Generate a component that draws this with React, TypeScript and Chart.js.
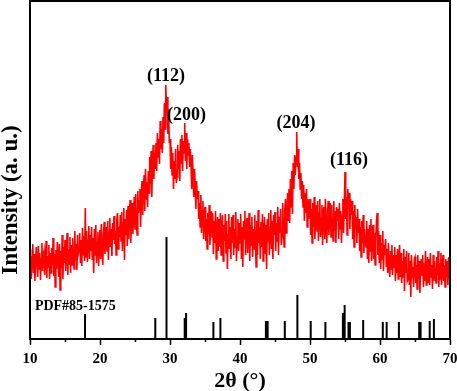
import React, { useEffect, useRef } from "react";
import { Chart, registerables } from "chart.js";

Chart.register(...registerables);

// Measured XRD pattern: 2θ from 10° to 70°, step 0.1°
const TWO_THETA_START = 10;
const TWO_THETA_STEP = 0.1;
const intensity: number[] = [
  70, 90, 60, 82, 95, 66, 85, 58, 78, 92,
  75, 62, 93, 70, 86, 59, 80, 96, 68, 84,
  88, 64, 79, 98, 61, 83, 72, 94, 60, 86,
  66, 91, 74, 101, 63, 85, 52, 89, 70, 97,
  80, 62, 95, 49, 88, 71, 104, 60, 92, 76,
  99, 68, 86, 106, 64, 90, 75, 102, 66, 94,
  74, 101, 84, 70, 108, 79, 95, 69, 104, 86,
  90, 106, 76, 99, 73, 111, 84, 103, 78, 131,
  82, 108, 77, 99, 113, 80, 104, 88, 112, 79,
  101, 66, 110, 84, 114, 76, 96, 107, 73, 92,
  109, 80, 115, 90, 74, 104, 117, 85, 98, 112,
  88, 118, 79, 106, 121, 92, 110, 83, 116, 99,
  123, 95, 108, 84, 119, 126, 90, 112, 102, 124,
  98, 127, 88, 116, 131, 79, 120, 104, 129, 93,
  133, 100, 124, 139, 96, 118, 136, 105, 128, 142,
  110, 145, 120, 104, 148, 126, 138, 150, 112, 143,
  158, 124, 150, 164, 128, 170, 140, 157, 132, 168,
  146, 182, 155, 188, 142, 175, 194, 160, 186, 170,
  196, 168, 206, 182, 200, 175, 218, 190, 210, 186,
  222, 196, 236, 210, 254, 228, 242, 205, 230, 196,
  200, 170, 192, 164, 186, 150, 178, 160, 190, 156,
  162, 194, 170, 188, 158, 200, 176, 204, 168, 198,
  186, 216, 178, 206, 170, 200, 184, 196, 172, 190,
  176, 150, 184, 162, 142, 170, 154, 130, 158, 140,
  148, 120, 136, 112, 144, 106, 128, 138, 100, 122,
  132, 98, 120, 90, 126, 105, 134, 94, 116, 128,
  102, 126, 85, 118, 96, 128, 80, 110, 122, 88,
  120, 92, 126, 84, 108, 124, 78, 114, 98, 125,
  86, 118, 70, 104, 125, 90, 112, 80, 122, 96,
  124, 84, 110, 92, 127, 78, 102, 120, 88, 116,
  96, 125, 80, 112, 72, 118, 100, 128, 84, 108,
  121, 86, 104, 126, 78, 114, 94, 122, 82, 110,
  90, 124, 100, 72, 118, 84, 129, 96, 112, 80,
  117, 92, 125, 78, 106, 122, 86, 114, 70, 120,
  98, 126, 84, 112, 129, 90, 118, 80, 124, 104,
  127, 88, 116, 98, 132, 84, 122, 106, 130, 94,
  102, 136, 112, 92, 130, 140, 106, 124, 146, 118,
  150, 116, 160, 132, 168, 125, 176, 150, 184, 164,
  182, 207, 172, 190, 160, 176, 150, 166, 140, 158,
  132, 154, 118, 146, 126, 150, 112, 140, 120, 136,
  140, 104, 130, 96, 136, 112, 142, 100, 124, 134,
  108, 138, 98, 126, 140, 102, 120, 134, 94, 128,
  132, 100, 140, 112, 96, 126, 138, 104, 122, 136,
  102, 134, 114, 98, 138, 108, 128, 96, 132, 118,
  130, 100, 136, 110, 128, 96, 124, 140, 106, 134,
  167, 120, 142, 104, 150, 132, 146, 110, 140, 124,
  138, 100, 128, 92, 134, 110, 122, 96, 130, 106,
  120, 88, 112, 82, 118, 96, 124, 86, 110, 100,
  92, 118, 80, 110, 76, 114, 88, 120, 78, 104,
  114, 80, 106, 74, 102, 118, 126, 84, 108, 76,
  104, 70, 96, 80, 108, 68, 94, 84, 100, 72,
  90, 66, 96, 74, 62, 88, 70, 94, 64, 84,
  72, 92, 58, 84, 66, 90, 60, 80, 94, 62,
  86, 56, 78, 62, 90, 48, 82, 66, 88, 58,
  60, 86, 54, 78, 42, 84, 62, 72, 52, 80,
  82, 56, 74, 50, 84, 60, 78, 46, 70, 80,
  64, 84, 52, 76, 58, 88, 54, 72, 82, 56,
  80, 54, 86, 62, 74, 50, 84, 58, 78, 66,
  56, 82, 64, 88, 52, 76, 60, 86, 54, 72,
  84, 58, 74, 52, 80, 62, 78, 54, 82, 60,
  66,
];

// Reference pattern PDF#85-1575
const refPositions: number[] = [
  17.86, 27.9, 29.5, 32.1, 32.3, 36.2, 37.2, 43.7, 43.95, 46.4, 48.2, 50.1,
  52.2, 54.7, 54.95, 55.5, 55.7, 57.6, 60.4, 60.95, 62.7, 65.6, 65.8, 67.1, 67.7,
];
const refHeights: number[] = [
  25, 21, 102, 21, 26, 17, 21, 18, 18, 18, 44, 18,
  17, 26, 34, 17, 17, 19, 17, 17, 17, 17, 17, 18, 20,
];

const xTicks: number[] = [10, 20, 30, 40, 50, 60, 70];
const xMinorTicks: number[] = [15, 25, 35, 45, 55, 65];

const peakLabels: string[] = ["(112)", "(200)", "(204)", "(116)"];
const peakLabelX: number[] = [29.43, 32.36, 48.0, 55.57];
const peakLabelY: number[] = [263, 224, 216, 179];
const refLabel = "PDF#85-1575";
const xTitle = "2θ (°)";
const yTitle = "Intensity (a. u.)";

const FONT = '"Liberation Serif", "Times New Roman", serif';

export default function App() {
  const ref = useRef<HTMLCanvasElement | null>(null);

  useEffect(() => {
    if (!ref.current) return;
    const curve = intensity.map((v, i) => ({
      x: TWO_THETA_START + i * TWO_THETA_STEP,
      y: v,
    }));
    const sticks: { x: number; y: number | null }[] = [];
    refPositions.forEach((p, i) => {
      sticks.push({ x: p, y: 0 }, { x: p, y: refHeights[i] }, { x: p, y: null });
    });

    const decor = {
      id: "decor",
      afterDatasetsDraw(chart: any) {
        const { ctx, chartArea } = chart;
        const xs = chart.scales.x;
        const ys = chart.scales.y;
        ctx.save();
        // frame
        ctx.strokeStyle = "#000";
        ctx.lineWidth = 2;
        ctx.strokeRect(chartArea.left, chartArea.top, chartArea.right - chartArea.left, chartArea.bottom - chartArea.top);
        // minor ticks
        ctx.lineWidth = 1.5;
        xMinorTicks.forEach((t) => {
          const px = Math.round(xs.getPixelForValue(t)) + 0.5;
          ctx.beginPath();
          ctx.moveTo(px, chartArea.bottom);
          ctx.lineTo(px, chartArea.bottom + 3);
          ctx.stroke();
        });
        ctx.fillStyle = "#000";
        // tick labels
        ctx.textAlign = "center";
        ctx.textBaseline = "alphabetic";
        ctx.font = `bold 15px ${FONT}`;
        xTicks.forEach((t) => {
          ctx.fillText(String(t), xs.getPixelForValue(t), chartArea.bottom + 24);
        });
        // x title
        ctx.font = `bold 22px ${FONT}`;
        ctx.fillText(xTitle, (chartArea.left + chartArea.right) / 2, chartArea.bottom + 48);
        // peak labels
        ctx.textBaseline = "middle";
        ctx.font = `bold 18px ${FONT}`;
        peakLabels.forEach((t, i) => {
          ctx.fillText(t, xs.getPixelForValue(peakLabelX[i]), ys.getPixelForValue(peakLabelY[i]));
        });
        ctx.textAlign = "left";
        ctx.font = `bold 14px ${FONT}`;
        ctx.fillText(refLabel, xs.getPixelForValue(10.7), ys.getPixelForValue(33));
        // y title
        ctx.font = `bold 23px ${FONT}`;
        ctx.translate(17, 200);
        ctx.rotate(-Math.PI / 2);
        ctx.textAlign = "center";
        ctx.textBaseline = "alphabetic";
        ctx.fillText(yTitle, 0, 0);
        ctx.restore();
      },
    };

    const chart = new Chart(ref.current, {
      type: "line",
      data: {
        datasets: [
          {
            data: curve,
            borderColor: "#ff0000",
            borderWidth: 1.6,
            pointRadius: 0,
            tension: 0,
          },
          {
            data: sticks as any,
            borderColor: "#000",
            borderWidth: 2,
            pointRadius: 0,
            spanGaps: false,
          },
        ],
      },
      options: {
        responsive: false,
        animation: false,
        events: [],
        layout: { padding: { left: 30, right: 7, top: 1, bottom: 46 } },
        plugins: { legend: { display: false }, tooltip: { enabled: false } },
        scales: {
          x: {
            type: "linear",
            min: 10,
            max: 70,
            afterBuildTicks: (s: any) => {
              s.ticks = xTicks.map((v) => ({ value: v }));
            },
            ticks: { display: false },
            grid: {
              display: true,
              drawOnChartArea: false,
              drawTicks: true,
              tickLength: 6,
              tickWidth: 1.5,
              tickColor: "#000",
            },
            border: { display: true, color: "#000", width: 2 },
            title: { display: false },
          },
          y: {
            display: false,
            min: 0,
            max: 338,
          },
        },
      },
      plugins: [decor],
    });
    return () => chart.destroy();
  }, []);

  return (
    <div style={{ position: "fixed", left: 0, top: 0, width: 457, height: 391, background: "#fff" }}>
      <canvas ref={ref} width={457} height={391} style={{ width: 457, height: 391 }} />
    </div>
  );
}
